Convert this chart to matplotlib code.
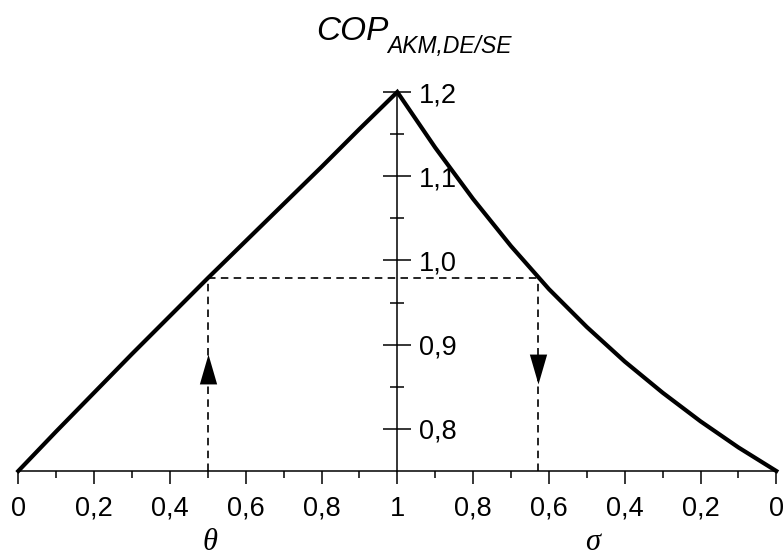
import numpy as np
import matplotlib
matplotlib.use("Agg")
import matplotlib.pyplot as plt
from matplotlib.path import Path

plt.rcParams['font.family'] = ['Liberation Sans', 'DejaVu Sans']

# ---- data ----
theta = [0.0, 0.1, 0.2, 0.3, 0.4, 0.5, 0.6, 0.7, 0.8, 0.9, 1.0]
cop_theta = [0.750, 0.797, 0.843, 0.889, 0.934, 0.979, 1.023, 1.067, 1.111, 1.156, 1.200]
sigma = [1.0, 0.9, 0.8, 0.7, 0.6, 0.5, 0.4, 0.3, 0.2, 0.1, 0.0]
cop_sigma = [1.200, 1.134, 1.073, 1.017, 0.966, 0.921, 0.880, 0.843, 0.809, 0.778, 0.750]
theta_sel = 0.5
sigma_sel = 0.63
cop_sel = 0.979
x_tick_labels = ['0', '0,2', '0,4', '0,6', '0,8', '1', '0,8', '0,6', '0,4', '0,2', '0']
y_ticks = [0.8, 0.9, 1.0, 1.1, 1.2]
y_tick_labels = ['0,8', '0,9', '1,0', '1,1', '1,2']
y_min, y_max = 0.75, 1.2
arrow_y = 0.871

# ---- figure ----
W, H = 784, 558
fig = plt.figure(figsize=(W / 100, H / 100), dpi=100)
ax = fig.add_axes([18.3 / W, (H - 471) / H, 758 / W, (471 - 92) / H])

# combined x coordinate: theta on the left (0..1), sigma on the right (x = 2 - sigma)
x_left = np.array(theta)
x_right = 2 - np.array(sigma)
x_all = np.concatenate([x_left, x_right[1:]])
y_all = np.concatenate([cop_theta, cop_sigma[1:]])
ax.plot(x_all, y_all, color='black', lw=3.0, clip_on=False, zorder=5,
        solid_joinstyle='miter')

dash = dict(color='black', lw=1.2, dashes=(4.5, 3.2), zorder=3)
xs = 2 - sigma_sel
ax.plot([theta_sel, xs], [cop_sel, cop_sel], **dash)
ax.plot([theta_sel, theta_sel], [y_min, cop_sel], **dash)
ax.plot([xs, xs], [y_min, cop_sel], **dash)

up = Path([(-0.29, -0.5), (0.29, -0.5), (0, 0.5), (-0.29, -0.5)],
          [Path.MOVETO, Path.LINETO, Path.LINETO, Path.CLOSEPOLY])
down = Path([(-0.29, 0.5), (0.29, 0.5), (0, -0.5), (-0.29, 0.5)],
            [Path.MOVETO, Path.LINETO, Path.LINETO, Path.CLOSEPOLY])
ax.plot([theta_sel], [arrow_y], marker=up, markersize=21.5, color='black',
        markeredgewidth=0, zorder=6)
ax.plot([xs], [arrow_y], marker=down, markersize=21.5, color='black',
        markeredgewidth=0, zorder=6)

ax.set_xlim(0, 2)
ax.set_ylim(y_min, y_max)

for s in ['top', 'left']:
    ax.spines[s].set_visible(False)
ax.spines['right'].set_position(('data', 1))
ax.spines['right'].set_linewidth(1.1)
ax.spines['bottom'].set_linewidth(1.1)

ax.set_xticks(np.arange(0, 2.01, 0.2))
ax.set_xticklabels(x_tick_labels)
ax.set_xticks(np.arange(0.1, 2.0, 0.2), minor=True)
ax.tick_params(axis='x', which='major', direction='out', length=9.4, width=1.1,
               pad=8.5, labelsize=19.5)
ax.tick_params(axis='x', which='minor', direction='out', length=5.0, width=1.1)

ax.yaxis.tick_right()
ax.set_yticks(y_ticks)
ax.set_yticklabels(y_tick_labels)
ax.set_yticks([0.85, 0.95, 1.05, 1.15], minor=True)
ax.tick_params(axis='y', which='major', direction='inout', length=20.5, width=1.1,
               pad=5.5, labelsize=19.5)
ax.tick_params(axis='y', which='minor', direction='inout', length=10.5, width=1.1)

# title: COP with subscript
fig.text(316 / W, (H - 40) / H, 'COP', fontsize=24, style='italic',
         ha='left', va='baseline')
fig.text(387 / W, (H - 53) / H, 'AKM,DE/SE', fontsize=16.5, style='italic',
         ha='left', va='baseline')

fig.text(210 / W, 1 / H, 'θ', family=['Liberation Serif', 'DejaVu Serif'],
         style='italic', fontsize=22, ha='center', va='bottom')
fig.text(593 / W, 1 / H, 'σ', family=['Liberation Serif', 'DejaVu Serif'],
         style='italic', fontsize=22, ha='center', va='bottom')

fig.savefig('out.png', dpi=100)
